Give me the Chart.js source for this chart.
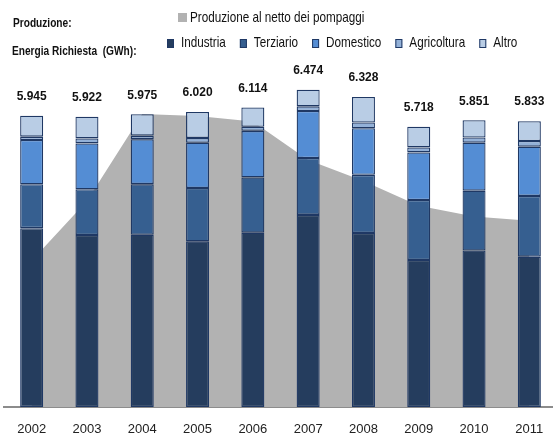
<!DOCTYPE html>
<html>
<head>
<meta charset="utf-8">
<script src="https://cdn.jsdelivr.net/npm/chart.js@4"></script>
<style>
  html, body { margin: 0; padding: 0; overflow: hidden; background: #ffffff; }
  #wrap { width: 562px; height: 437px; }
</style>
</head>
<body>
<div id="wrap"><canvas id="c" width="562" height="437"></canvas></div>
<script>
// Energia richiesta per settore (GWh) e produzione al netto dei pompaggi
const years = ['2002', '2003', '2004', '2005', '2006', '2007', '2008', '2009', '2010', '2011'];
const industria   = [3650, 3510, 3514, 3381, 3558, 3920, 3550, 3000, 3195, 3068];
const terziario   = [897, 935, 1034, 1089, 1128, 1162, 1188, 1223, 1220, 1240];
const domestico   = [903, 935, 918, 924, 950, 958, 952, 973, 980, 1005];
const agricoltura = [67, 102, 73, 96, 82, 96, 116, 102, 104, 115];
const altro       = [428, 440, 436, 530, 396, 338, 522, 420, 352, 405];
const produzioneNetta = [2983, 4206, 5980, 5940, 5828, 5042, 4614, 4105, 3890, 3799];

const SANS = "'Liberation Sans', Arial, sans-serif";
const EDGE = '#1F3864';
const CONDENSE = 0.78;   // horizontal squeeze for the header text

function fmtIt(n) {
  return String(Math.round(n)).replace(/\B(?=(\d{3})+(?!\d))/g, '.');
}

function barSet(label, data, color) {
  return {
    type: 'bar', label, data,
    backgroundColor: color,
    borderColor: EDGE,
    borderWidth: 1.3,
    borderSkipped: false,
    stack: 'richiesta',
    order: 1
  };
}

// draws text squeezed horizontally, returns the width used
function narrowText(ctx, text, x, y) {
  const w = ctx.measureText(text).width * CONDENSE;
  ctx.fillText(text, x, y, w);
  return w;
}

// Totals written above each stacked column
const totalsPlugin = {
  id: 'totals',
  afterDatasetsDraw(chart) {
    const ctx = chart.ctx;
    const barIdx = chart.data.datasets.map((d, i) => i).filter(i => chart.data.datasets[i].type === 'bar');
    const topMeta = chart.getDatasetMeta(barIdx[barIdx.length - 1]);
    ctx.save();
    ctx.font = "bold 12px " + SANS;
    ctx.fillStyle = '#111111';
    ctx.textAlign = 'center';
    ctx.textBaseline = 'middle';
    chart.data.labels.forEach((_, i) => {
      const sum = barIdx.reduce((s, k) => s + chart.data.datasets[k].data[i], 0);
      const el = topMeta.data[i];
      ctx.fillText(fmtIt(sum), el.x, el.y - 19);
    });
    ctx.restore();
  }
};

// Header legend: group titles on the left, swatches to the right
const headerLegend = {
  id: 'headerLegend',
  afterDraw(chart) {
    const ctx = chart.ctx;
    const ds = chart.data.datasets;
    ctx.save();
    ctx.textBaseline = 'middle';
    ctx.textAlign = 'left';
    ctx.fillStyle = '#111111';
    ctx.font = "bold 13px " + SANS;
    narrowText(ctx, 'Produzione:', 13, 23);
    narrowText(ctx, 'Energia Richiesta  (GWh):', 12, 51);

    ctx.font = "15px " + SANS;
    // production series
    const prod = ds.find(d => d.type === 'line');
    ctx.fillStyle = prod.backgroundColor;
    ctx.fillRect(178, 13, 9, 9);
    ctx.fillStyle = '#111111';
    narrowText(ctx, prod.label, 190, 18);

    // demand series
    let x = 167;
    ds.filter(d => d.type === 'bar').forEach(d => {
      ctx.fillStyle = d.backgroundColor;
      ctx.fillRect(x, 39, 7, 9);
      ctx.strokeStyle = EDGE;
      ctx.lineWidth = 1;
      ctx.strokeRect(x + 0.5, 39.5, 6, 8);
      ctx.fillStyle = '#111111';
      const w = narrowText(ctx, d.label, x + 14, 43);
      x += 14 + w + 14;
    });
    ctx.restore();
  }
};

new Chart(document.getElementById('c'), {
  data: {
    labels: years,
    datasets: [
      barSet('Industria', industria, '#253D5E'),
      barSet('Terziario', terziario, '#365F90'),
      barSet('Domestico', domestico, '#548DD4'),
      barSet('Agricoltura', agricoltura, '#93B1D8'),
      barSet('Altro', altro, '#B9CDE5'),
      {
        type: 'line',
        label: 'Produzione al netto dei pompaggi',
        data: produzioneNetta,
        backgroundColor: '#B2B2B2',
        borderColor: '#B2B2B2',
        borderWidth: 0,
        pointRadius: 0,
        tension: 0,
        fill: 'origin',
        stack: 'produzione',
        order: 10
      }
    ]
  },
  options: {
    responsive: false,
    animation: false,
    devicePixelRatio: 1,
    layout: { padding: { left: 4, right: 5, top: 64, bottom: 0 } },
    datasets: { bar: { categoryPercentage: 1, barPercentage: 0.416 } },
    plugins: { legend: { display: false }, tooltip: { enabled: false } },
    scales: {
      x: {
        stacked: true,
        grid: { display: false, drawTicks: false },
        border: { display: true, color: '#8C8C8C', width: 2 },
        ticks: { color: '#222222', font: { family: SANS, size: 13 }, padding: 15, maxRotation: 0 },
        afterFit(scale) { scale.height = 30; }
      },
      y: {
        stacked: true,
        display: false,
        min: 0,
        max: 7000
      }
    }
  },
  plugins: [totalsPlugin, headerLegend]
});
</script>
</body>
</html>
